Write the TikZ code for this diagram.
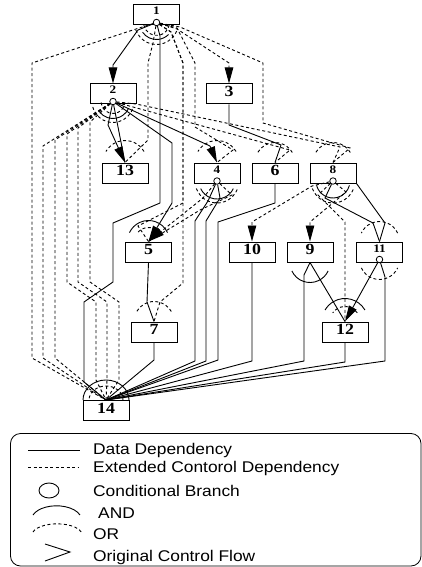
\documentclass[tikz,border=0pt]{standalone}
\usepackage{fontspec}
\setmainfont{Liberation Serif}[FakeStretch=1.15]
\newfontfamily\legfont{Liberation Sans}[FakeStretch=1.12]
\usetikzlibrary{arrows.meta,calc,positioning}

\begin{document}
\begin{tikzpicture}[x=1pt,y=-1pt,
  blk/.style={draw,line width=1pt,minimum width=46pt,minimum height=20pt,inner sep=0pt,text height=10pt,text depth=5pt,font=\bfseries\fontsize{15.5}{15.5}\selectfont},
  sblk/.style={blk,text height=8pt,text depth=8pt,font=\bfseries\fontsize{11.5}{11.5}\selectfont},
  cnd/.style={draw,circle,fill=white,line width=0.8pt,minimum size=6.5pt,inner sep=0pt},
  dd/.style={line width=0.9pt},
  cd/.style={line width=0.9pt,dash pattern=on 3pt off 2.5pt},
  leg/.style={anchor=west,inner sep=0pt,font=\legfont\fontsize{15.5}{18}\selectfont},
  >={Triangle[length=16pt,width=8.5pt]}]
  \useasboundingbox (0,0) rectangle (422,567);

  \node[sblk] (n1) at (156.5,15) {1};
  \node[sblk] (n2) at (113,94) {2};
  \node[blk] (n3) at (229,94) {3};
  \node[blk] (n13) at (125,173) {13};
  \node[sblk] (n4) at (217,173) {4};
  \node[blk] (n6) at (275,173) {6};
  \node[sblk] (n8) at (333,173) {8};
  \node[blk] (n5) at (148.5,252) {5};
  \node[blk] (n10) at (252,252) {10};
  \node[blk] (n9) at (310,252) {9};
  \node[sblk] (n11) at (379.5,252) {11};
  \node[blk] (n7) at (154,332) {7};
  \node[blk] (n12) at (345,332) {12};
  \node[blk] (n14) at (106,410.5) {14};

  \node[cnd] (c1) at (156.5,22.5) {};
  \node[cnd] (c2) at (113,101.5) {};
  \node[cnd] (c4) at (217,181) {};
  \node[cnd] (c8) at (333,181) {};
  \node[cnd] (c11) at (379.5,259.5) {};

  % from 1
  \draw[dd,->] (c1) -- (138,30) -- (113,65) -- (n2.north);
  \draw[dd] (c1) -- (160,36) -- (160,203) -- (113,223) -- (113,282) -- (84,302) -- (84,382) -- (n14.north);
  \draw[cd,->] (c1) -- (177,29) -- (229,63) -- (n3.north);
  \draw[cd] (c1) -- (136,29) -- (32,63) -- (32,358) -- (n14.north);
  \draw[cd] (c1) -- (153,43) -- (148,63) -- (148,140) -- (n13.north);
  \draw[cd] (c1) -- (171,32) -- (183,63) -- (183,283) -- (160,302) -- (n7.north);
  \draw[cd] (c1) -- (171,32) -- (183,63) -- (183,203) -- (138,226) -- (n5.north);
  \draw[cd] (c1) -- (177,28) -- (195,63) -- (195,127) -- (233,150) -- (n4.north);
  \draw[cd] (c1) -- (180,27) -- (263,63) -- (263,123) -- (350,148) -- (n8.north);

  % from 2
  \draw[dd,->] (c2) -- (108,125) -- (n13.north);
  \draw[dd] (c2) -- (n13.north);
  \draw[dd,->] (c2) -- (210,146) -- (n4.north);
  \draw[dd,->] (c2) -- (172,143) -- (172,203) -- (n5.north);
  \draw[cd] (c2) -- (43,146) -- (43,358) -- (n14.north);
  \draw[cd] (c2) -- (55,140) -- (55,358) -- (n14.north);
  \draw[cd] (c2) -- (67,134) -- (67,282) -- (96,302) -- (96,380) -- (n14.north);
  \draw[cd] (c2) -- (78,128) -- (78,282) -- (107,302) -- (107,380) -- (n14.north);
  \draw[cd] (c2) -- (90,122) -- (90,282) -- (119,302) -- (119,380) -- (n14.north);
  \draw[cd] (c2) -- (133,107) -- (290,150) -- (n6.north);
  \draw[cd] (c2) -- (136,104) -- (340,147) -- (n8.north);

  % from 3, 4, 6
  \draw[dd] (n3.south) -- (229,125) -- (281,145) -- (n6.north);
  \draw[dd] (c4) -- (208,201) -- (195,221) -- (195,361) -- (n14.north);
  \draw[dd] (c4) -- (220,198) -- (206,221) -- (206,361) -- (n14.north);
  \draw[cd,->] (c4) -- (203,198) -- (n5.north);
  \draw[cd] (c4) -- (232,195) -- (200,210) -- (n5.north);
  \draw[dd] (n6.south) -- (275,203) -- (218,222) -- (218,360) -- (n14.north);

  % from 8
  \draw[dd] (c8) -- (325,198) -- (373,223) -- (n11.north);
  \draw[dd] (n8.south east) -- (385,223) -- (n11.north);
  \draw[cd,->] (c8) -- (312,186) -- (252,222) -- (n10.north);
  \draw[cd,->] (c8) -- (346,192) -- (310,222) -- (n9.north);
  \draw[cd] (c8) -- (318,195) -- (345,222) -- (n12.north);

  % lower rows
  \draw[dd] (n5.south) -- (147,302) -- (n7.north);
  \draw[dd] (n7.south) -- (154,360) -- (n14.north);
  \draw[dd] (n9.south) -- (304,275) -- (304,361) -- (n14.north);
  \draw[dd] (n9.south) -- (n12.north);
  \draw[dd] (n10.south) -- (252,361) -- (n14.north);
  \draw[dd,->] (c11) -- (n12.north);
  \draw[dd] (c11) -- (385,277) -- (385,361) -- (n14.north);
  \draw[dd] (n12.south) -- (345,362) -- (n14.north);

  % AND / OR arcs
  \draw[dd] ([shift={(215:17pt)}]c1.center) arc[start angle=215,end angle=315,radius=17pt];
  \draw[cd] ([shift={(190:13pt)}]c1.center) arc[start angle=190,end angle=350,radius=13pt];
  \draw[cd] ([shift={(200:22pt)}]c1.center) arc[start angle=200,end angle=340,radius=22pt];
  \draw[dd] ([shift={(220:17pt)}]c2.center) arc[start angle=220,end angle=335,radius=17pt];
  \draw[cd] ([shift={(185:12pt)}]c2.center) arc[start angle=185,end angle=355,radius=12pt];
  \draw[cd] ([shift={(195:21pt)}]c2.center) arc[start angle=195,end angle=345,radius=21pt];
  \draw[cd] ([shift={(30:22pt)}]n13.north) arc[start angle=30,end angle=150,radius=22pt];
  \draw[cd] ([shift={(30:22pt)}]n4.north) arc[start angle=30,end angle=150,radius=22pt];
  \draw[cd] ([shift={(30:20pt)}]n6.north) arc[start angle=30,end angle=150,radius=20pt];
  \draw[cd] ([shift={(30:20pt)}]n8.north) arc[start angle=30,end angle=150,radius=20pt];
  \draw[dd] ([shift={(205:18pt)}]c4.center) arc[start angle=205,end angle=335,radius=18pt];
  \draw[cd] ([shift={(200:22pt)}]c4.center) arc[start angle=200,end angle=340,radius=22pt];
  \draw[dd] ([shift={(195:17pt)}]c8.center) arc[start angle=195,end angle=345,radius=17pt];
  \draw[cd] ([shift={(200:22pt)}]c8.center) arc[start angle=200,end angle=340,radius=22pt];
  \draw[dd] ([shift={(25:21pt)}]n5.north) arc[start angle=25,end angle=155,radius=21pt];
  \draw[cd] ([shift={(35:14pt)}]n5.north) arc[start angle=35,end angle=145,radius=14pt];
  \draw[cd] ([shift={(25:20pt)}]n11.north) arc[start angle=25,end angle=155,radius=20pt];
  \draw[dd] ([shift={(205:20pt)}]n9.south) arc[start angle=205,end angle=335,radius=20pt];
  \draw[cd] ([shift={(205:20pt)}]c11.center) arc[start angle=205,end angle=335,radius=20pt];
  \draw[dd] ([shift={(30:23pt)}]n12.north) arc[start angle=30,end angle=150,radius=23pt];
  \draw[cd] ([shift={(35:15pt)}]n12.north) arc[start angle=35,end angle=145,radius=15pt];
  \draw[cd] ([shift={(30:20pt)}]n7.north) arc[start angle=30,end angle=150,radius=20pt];
  \draw[dd] ([xshift=23pt]n14.north) arc[start angle=0,end angle=180,x radius=23pt,y radius=20pt];
  \draw[cd] ([xshift=17pt]n14.north) arc[start angle=0,end angle=180,x radius=17pt,y radius=14pt];

  % legend
  \draw[line width=0.8pt,rounded corners=10pt] (10.5,433.5) rectangle (421,566);
  \draw[dd] (28,450) -- (80,450);
  \node[leg] (t1) at (93,450) {Data Dependency};
  \draw[cd] (28,467) -- (78,467);
  \node[leg] (t2) at (93,468) {Extended Contorol Dependency};
  \draw[dd] (49,490.5) ellipse[x radius=10pt,y radius=7.5pt];
  \node[leg] (t3) at (93,491) {Conditional Branch};
  \draw[dd] (33,515) arc[start angle=160,end angle=20,x radius=25pt,y radius=14pt];
  \node[leg] (t4) at (98,513) {AND};
  \draw[cd] (33,532) arc[start angle=165,end angle=15,x radius=25pt,y radius=11pt];
  \node[leg] (t5) at (93,534) {OR};
  \draw[dd] (45,544) -- (70,552) -- (45,561);
  \node[leg] (t6) at (93,557) {Original Control Flow};
\end{tikzpicture}
\end{document}
